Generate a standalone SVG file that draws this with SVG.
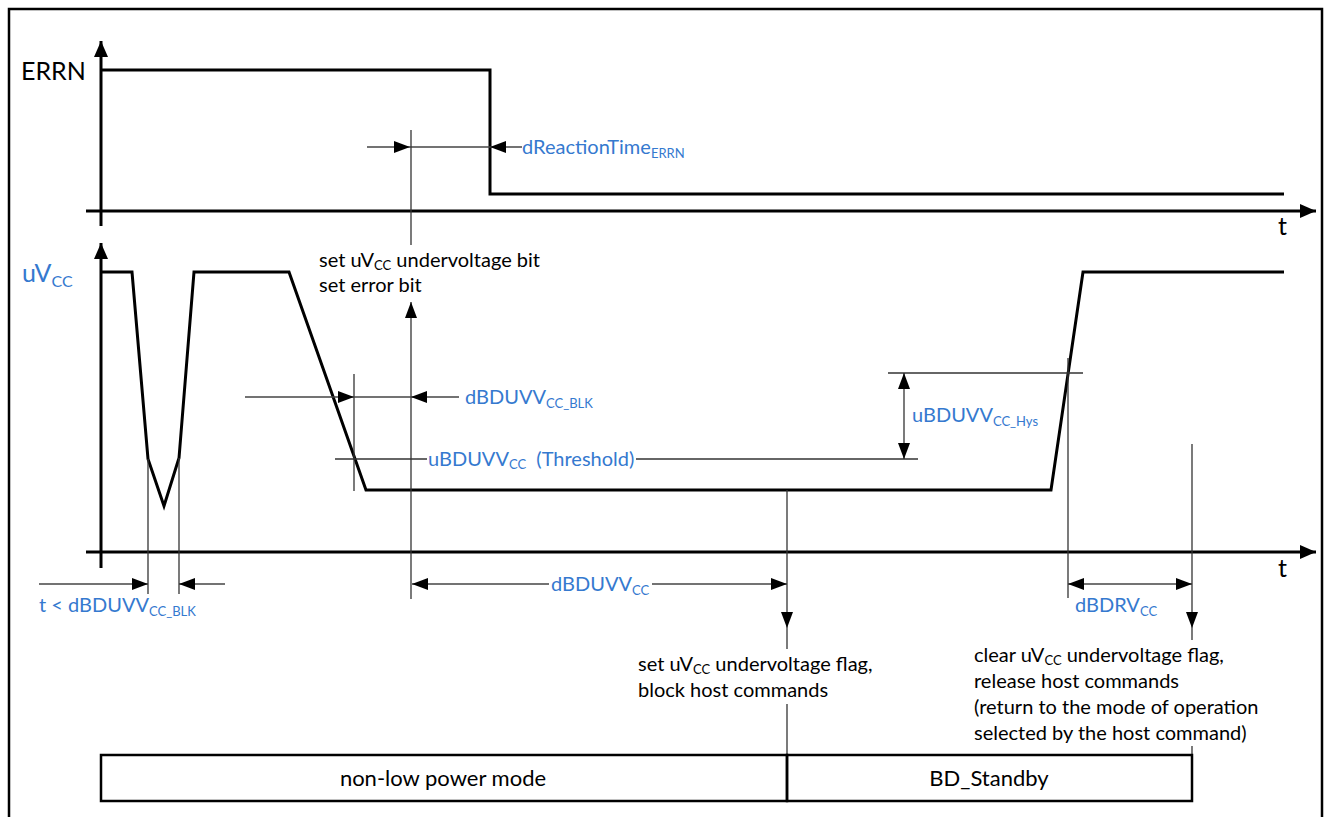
<svg xmlns="http://www.w3.org/2000/svg" width="1333" height="817" viewBox="0 0 1333 817">
<style>
text{font-family:Lato,"Liberation Sans",sans-serif;}
.blk{fill:#000;font-size:20px;}
.lbl{fill:#000;font-size:25px;}
.blu{fill:#3579cf;font-size:20px;}
.sig{fill:none;stroke:#000;stroke-width:3;stroke-linejoin:miter;}
.axis{fill:none;stroke:#000;stroke-width:3;}
.thin{fill:none;stroke:#333;stroke-width:1.3;}
.dim{fill:none;stroke:#444;stroke-width:1.5;}
</style>
<defs>
<marker id="ah" markerUnits="userSpaceOnUse" markerWidth="16" markerHeight="12" refX="16" refY="6" orient="auto-start-reverse" viewBox="0 0 16 12"><path d="M0,0 L16,6 L0,12 z" fill="#000"/></marker>
<marker id="ax" markerUnits="userSpaceOnUse" markerWidth="16" markerHeight="14" refX="16" refY="7" orient="auto" viewBox="0 0 16 14"><path d="M0,0 L16,7 L0,14 z" fill="#000"/></marker>
</defs>
<rect x="9" y="9" width="1313" height="830" fill="none" stroke="#000" stroke-width="2.5"/>

<g id="errn-chart">
<path class="axis" d="M101,226 L101,41" marker-end="url(#ax)"/>
<path class="axis" d="M86,211 L1316,211" marker-end="url(#ax)"/>
<text class="lbl" x="21" y="80">ERRN</text>
<text class="lbl" x="1278" y="235">t</text>
<path class="sig" d="M101,70 L490,70 L490,194 L1284,194"/>
</g>

<g id="uvcc-chart">
<path class="axis" d="M101,568 L101,243" marker-end="url(#ax)"/>
<path class="axis" d="M86,552 L1316,552" marker-end="url(#ax)"/>
<text class="blu" x="22" y="282" style="font-size:25px">uV<tspan font-size="16" dy="5">CC</tspan></text>
<text class="lbl" x="1278" y="577">t</text>
<path class="sig" d="M101,272 L132,272 L148,459 L164,506 L179,458 L194,272 L289,272 L366,490 L1051,490 L1083,272 L1284,272"/>
</g>

<g id="connectors">
<path class="dim" d="M367,147 L410,147" marker-end="url(#ah)"/>
<path class="dim" d="M410,147 L490,147"/>
<path class="dim" d="M522,147 L490,147" marker-end="url(#ah)"/>
<path class="thin" d="M411,130 L411,245"/>
<path class="thin" d="M411,599 L411,302" marker-end="url(#ah)"/>
<path class="thin" d="M148,459 L148,594"/>
<path class="thin" d="M179,458 L179,594"/>
<path class="dim" d="M39,584 L148,584" marker-end="url(#ah)"/>
<path class="dim" d="M225,584 L179,584" marker-end="url(#ah)"/>
<path class="thin" d="M354,374 L354,491"/>
<path class="dim" d="M245,397 L354,397" marker-end="url(#ah)"/>
<path class="dim" d="M354,397 L411,397"/>
<path class="dim" d="M459,397 L411,397" marker-end="url(#ah)"/>
<path class="thin" d="M335,459 L427,459"/>
<path class="thin" d="M636,459 L918,459"/>
<path class="dim" d="M549,584 L412,584" marker-end="url(#ah)"/>
<path class="dim" d="M652,584 L787,584" marker-end="url(#ah)"/>
<path class="thin" d="M787,490 L787,628" marker-end="url(#ah)"/>
<path class="thin" d="M787,628 L787,649"/>
<path class="thin" d="M787,704 L787,755"/>
<path class="thin" d="M888,373 L1083,373"/>
<path class="thin" d="M904,416 L904,373" marker-end="url(#ah)"/>
<path class="thin" d="M904,416 L904,459" marker-end="url(#ah)"/>
<path class="thin" d="M1068,358 L1068,598"/>
<path class="thin" d="M1192,444 L1192,628" marker-end="url(#ah)"/>
<path class="thin" d="M1192,628 L1192,640"/>
<path class="thin" d="M1192,746 L1192,755"/>
<path class="dim" d="M1130,584 L1068,584" marker-end="url(#ah)"/>
<path class="dim" d="M1130,584 L1192,584" marker-end="url(#ah)"/>
</g>

<g id="labels">
<text class="blu" x="522" y="154">dReactionTime<tspan font-size="13" dy="4">ERRN</tspan></text>
<text class="blk" x="319" y="267">set uV<tspan font-size="13" dy="3">CC</tspan><tspan dy="-3"> undervoltage bit</tspan></text>
<text class="blk" x="319" y="292">set error bit</text>
<text class="blu" x="465" y="404">dBDUVV<tspan font-size="13" dy="4">CC_BLK</tspan></text>
<text class="blu" x="428" y="466" xml:space="preserve">uBDUVV<tspan font-size="13" dy="3">CC</tspan><tspan dy="-3">  (Threshold)</tspan></text>
<text class="blu" x="912" y="422">uBDUVV<tspan font-size="13" dy="4">CC_Hys</tspan></text>
<text class="blu" x="39" y="612">t &lt; dBDUVV<tspan font-size="13" dy="4">CC_BLK</tspan></text>
<text class="blu" x="551" y="591">dBDUVV<tspan font-size="13" dy="4">CC</tspan></text>
<text class="blu" x="1075" y="612">dBDRV<tspan font-size="13" dy="4">CC</tspan></text>
<text class="blk" x="638" y="671">set uV<tspan font-size="13" dy="3">CC</tspan><tspan dy="-3"> undervoltage flag,</tspan></text>
<text class="blk" x="638" y="697">block host commands</text>
<text class="blk" x="974" y="662">clear uV<tspan font-size="13" dy="3">CC</tspan><tspan dy="-3"> undervoltage flag,</tspan></text>
<text class="blk" x="974" y="688">release host commands</text>
<text class="blk" x="974" y="714">(return to the mode of operation</text>
<text class="blk" x="974" y="740">selected by the host command)</text>
</g>

<g id="mode-nonlow">
<rect x="101" y="755" width="686" height="46" fill="none" stroke="#000" stroke-width="2.5"/>
<text class="blk" x="443" y="786" text-anchor="middle" style="font-size:22px">non-low power mode</text>
</g>
<g id="mode-standby">
<rect x="787" y="755" width="405" height="46" fill="none" stroke="#000" stroke-width="2.5"/>
<text class="blk" x="989" y="786" text-anchor="middle" style="font-size:22px">BD_Standby</text>
</g>
</svg>
